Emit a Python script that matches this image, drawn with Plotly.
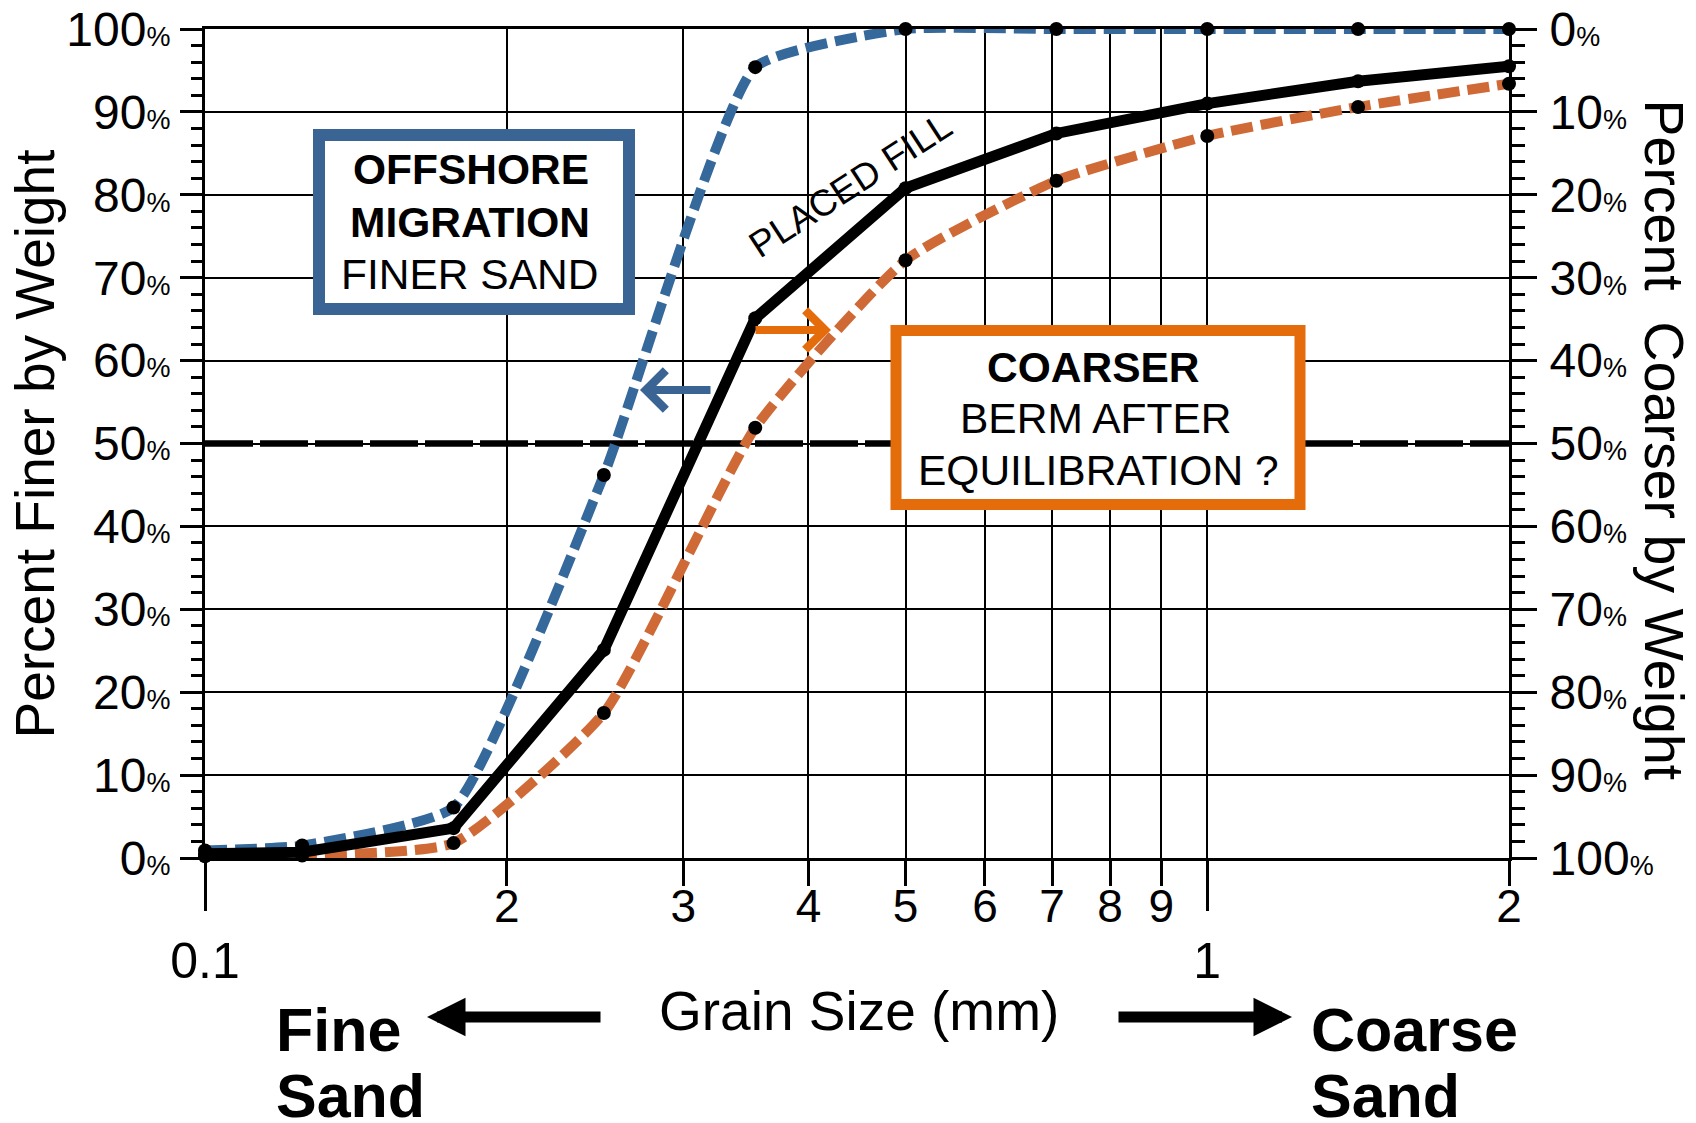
import math
import plotly.graph_objects as go

# ---------------- data ----------------
sizes_mm = [0.1, 0.125, 0.177, 0.25, 0.354, 0.5, 0.707, 1.0, 1.414, 2.0]
placed_fill = [0.5, 0.7, 3.6, 25.1, 65.1, 80.8, 87.4, 91.0, 93.7, 95.5]
berm_equilibrated = [0.2, 0.3, 1.8, 17.5, 51.9, 72.1, 81.7, 87.1, 90.6, 93.4]
offshore_migration = [0.9, 1.5, 6.1, 46.2, 95.4, 100, 100, 100, 100, 100]
median_line = [50, 50]

x_tick_vals = [0.1, 0.2, 0.3, 0.4, 0.5, 0.6, 0.7, 0.8, 0.9, 1.0, 2.0]
x_tick_labels = ["0.1", "2", "3", "4", "5", "6", "7", "8", "9", "1", "2"]
x_decade_vals = [0.1, 1.0]
pct_vals = list(range(0, 101, 10))


def x_label(v, lab):
    if v in x_decade_vals:
        return f"<br><span style='font-size:50px'>{lab}</span>"
    return f"<span style='font-size:46px'>{lab}</span>"


x_tick_text = [x_label(v, lab) for v, lab in zip(x_tick_vals, x_tick_labels)]
finer_text = [f"{v}<span style='font-size:27px'>%</span>" for v in pct_vals]
coarser_text = [f"{v}<span style='font-size:27px'>%</span>" for v in pct_vals]

# ---------------- styling ----------------
FONT = "Liberation Sans, Arial, sans-serif"
BLUE_LINE = "#35689B"
BLUE_BOX = "#3A6494"
ORANGE_LINE = "#CF6A37"
ORANGE_BOX = "#E46C0A"

OFF = 8                      # page body margin of the html page
FIG_W, FIG_H = 1696 - OFF, 1123 - OFF
L, R, T, B = 197, 187, 21, 265
W = FIG_W - L - R
H = FIG_H - T - B


def px(X):  # page pixel -> paper
    return (X - OFF - L) / W


def py(Y):
    return (OFF + T + H - Y) / H


fig = go.Figure()

fig.add_trace(go.Scatter(x=[sizes_mm[0], sizes_mm[-1]], y=median_line, mode="lines",
                         line=dict(color="black", width=6.5, dash="48px,7px"),
                         hoverinfo="skip", showlegend=False))
fig.add_trace(go.Scatter(x=sizes_mm, y=offshore_migration, mode="lines+markers", cliponaxis=False,
                         line=dict(color=BLUE_LINE, width=10, dash="22px,8px", shape="spline", smoothing=0.45),
                         marker=dict(color="black", size=14), showlegend=False))
fig.add_trace(go.Scatter(x=sizes_mm, y=berm_equilibrated, mode="lines+markers", cliponaxis=False,
                         line=dict(color=ORANGE_LINE, width=10, dash="22px,8px", shape="spline", smoothing=0.5),
                         marker=dict(color="black", size=14), showlegend=False))
fig.add_trace(go.Scatter(x=sizes_mm, y=placed_fill, mode="lines+markers", cliponaxis=False,
                         line=dict(color="black", width=11),
                         marker=dict(color="black", size=14), showlegend=False))
# invisible trace to carry the right-hand (coarser) axis
fig.add_trace(go.Scatter(x=[sizes_mm[0], sizes_mm[-1]], y=[0, 100], yaxis="y2", mode="markers",
                         marker=dict(size=1, opacity=0), hoverinfo="skip", showlegend=False))


def rotated_band(cx, cy, half_len, half_thick, angle_deg):
    a = math.radians(angle_deg)
    ux, uy = math.cos(a), -math.sin(a)
    vx, vy = math.sin(a), math.cos(a)
    pts = []
    for s, t in [(-half_len, -half_thick), (half_len, -half_thick), (half_len, half_thick), (-half_len, half_thick)]:
        X = cx + s * ux + t * vx
        Y = cy + s * uy + t * vy
        pts.append(f"{px(X):.5f},{py(Y):.5f}")
    return "M" + " L".join(pts) + " Z"


shapes = [
    # white band behind the "PLACED FILL" label (hides gridlines, not curves)
    dict(type="path", xref="paper", yref="paper", path=rotated_band(863, 166, 180, 31, 30),
         line=dict(width=0), fillcolor="white", layer="between"),
    dict(type="rect", xref="paper", yref="paper", x0=px(319), x1=px(629), y0=py(309), y1=py(135),
         line=dict(color=BLUE_BOX, width=12), fillcolor="white", layer="above"),
    dict(type="rect", xref="paper", yref="paper", x0=px(896), x1=px(1300), y0=py(504.5), y1=py(330.5),
         line=dict(color=ORANGE_BOX, width=11), fillcolor="white", layer="above"),
]


def txt(text, X, Y, size, bold=False, xanchor="center", angle=0, **kw):
    t = f"<b>{text}</b>" if bold else text
    return dict(text=t, x=px(X), y=py(Y), xref="paper", yref="paper", showarrow=False,
                xanchor=xanchor, yanchor="middle", textangle=angle,
                font=dict(family=FONT, size=size, color="black"), **kw)


annotations = [
    txt("Percent Finer by Weight", 34, 444.5, 55, angle=-90),
    txt("Percent\u00a0 Coarser by Weight", 1663.5, 440, 55.5, angle=90),
    txt("Grain Size (mm)", 859, 1011, 55),
    txt("Fine", 274, 1030, 61, bold=True, xanchor="left"),
    txt("Sand", 274, 1096, 61, bold=True, xanchor="left"),
    txt("Coarse", 1309, 1030, 61, bold=True, xanchor="left"),
    txt("Sand", 1309, 1096, 61, bold=True, xanchor="left"),
    txt("OFFSHORE", 471, 170, 42.5, bold=True),
    txt("MIGRATION", 470, 223, 42.5, bold=True),
    txt("FINER SAND", 469, 274, 42.5),
    txt("COARSER", 1093, 367, 42.5, bold=True),
    txt("BERM AFTER", 1096, 419, 42.5),
    txt("EQUILIBRATION ?", 1098, 470, 42.5),
    txt("PLACED FILL", 850, 185, 37, angle=-33),
]


def arrow(x_tip, y_tip, x_tail, color, width, head, size):
    return dict(text="", x=px(x_tip), y=py(y_tip), xref="paper", yref="paper",
                ax=x_tail - x_tip, ay=0, showarrow=True, arrowhead=head, arrowsize=size,
                arrowwidth=width, arrowcolor=color, standoff=0)


annotations += [
    arrow(640, 390, 712, BLUE_BOX, 8, 4, 0.95),
    arrow(831, 330, 754, ORANGE_BOX, 8, 4, 0.95),
    arrow(427, 1017, 602, "black", 11, 2, 0.7),
    arrow(1292, 1017, 1117, "black", 11, 2, 0.7),
]

fig.update_layout(
    width=FIG_W, height=FIG_H, template="none",
    paper_bgcolor="white", plot_bgcolor="white",
    margin=dict(l=L, r=R, t=T, b=B, pad=0),
    font=dict(family=FONT, size=45, color="black"),
    showlegend=False,
    shapes=shapes, annotations=annotations,
    xaxis=dict(type="log", range=[-1, 0.30103], autorange=False,
               tickmode="array", tickvals=x_tick_vals, ticktext=x_tick_text,
               ticks="outside", ticklen=25, tickwidth=2.5, tickcolor="black",
               tickfont=dict(size=43, family=FONT), ticklabelstandoff=-16,
               ticklabeloverflow="allow",
               showgrid=True, gridcolor="black", gridwidth=1.6,
               showline=True, linecolor="black", linewidth=3, mirror=True,
               zeroline=False, automargin=False,
               minor=dict(tickmode="array", tickvals=x_decade_vals, ticks="outside",
                          ticklen=50, tickwidth=2.5, tickcolor="black", showgrid=False)),
    yaxis=dict(range=[0, 100], autorange=False, tickmode="array", tickvals=pct_vals,
               ticktext=finer_text, ticks="outside", ticklen=22, tickwidth=2.5, tickcolor="black",
               tickfont=dict(size=48, family=FONT), ticklabeloverflow="allow",
               showgrid=True, gridcolor="black", gridwidth=1.6,
               showline=True, linecolor="black", linewidth=3, mirror=True,
               zeroline=False, automargin=False,
               minor=dict(dtick=2, ticks="outside", ticklen=11, tickwidth=2.5,
                          tickcolor="black", showgrid=False)),
    yaxis2=dict(overlaying="y", side="right", anchor="x", range=[100, 0], autorange=False,
                tickmode="array", tickvals=pct_vals, ticktext=coarser_text,
                ticks="outside", ticklen=25, tickwidth=2.5, tickcolor="black",
                tickfont=dict(size=48, family=FONT), ticklabelstandoff=3,
                ticklabeloverflow="allow",
                showgrid=False, showline=True, linecolor="black", linewidth=3,
                zeroline=False, automargin=False,
                minor=dict(dtick=2, ticks="outside", ticklen=13, tickwidth=2.5,
                           tickcolor="black", showgrid=False)),
)

fig.write_html("out.html")
